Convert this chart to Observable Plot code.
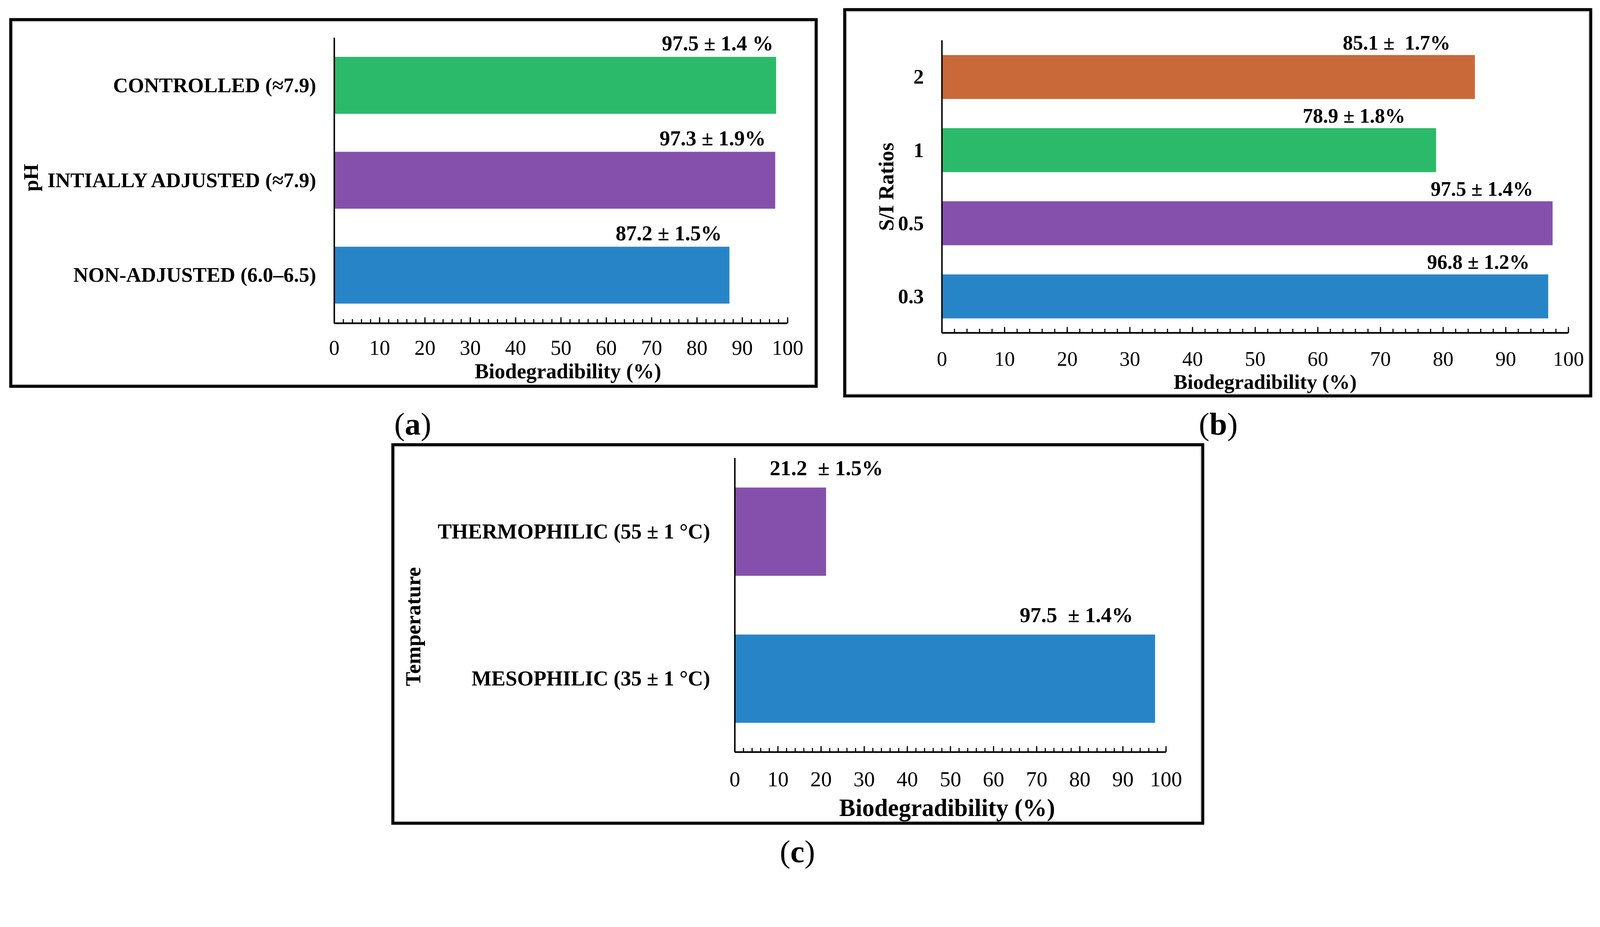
<!DOCTYPE html>
<html>
<head>
<meta charset="utf-8">
<script src="https://cdn.jsdelivr.net/npm/d3@7"></script>
<script src="https://cdn.jsdelivr.net/npm/@observablehq/plot@0.6"></script>
<style>
html, body { margin: 0; padding: 0; background: #fff; overflow: hidden; }
#page { position: absolute; left: 0; top: 0; width: 4334px; height: 2372px; background: #fff; overflow: hidden;
        transform-origin: 0 0;
        font-family: "Liberation Serif", "Times New Roman", serif; color: #000; }
.panel { position: absolute; box-sizing: border-box; border: 8px solid #000;
         box-shadow: inset 0 0 0 3px #d6d6d6; background: #fff; }
.panel svg { display: block; }
.cap { position: absolute; font-size: 86px; line-height: 1; transform: translate(-50%, -50%); white-space: nowrap; }
.cap b { font-weight: bold; }
</style>
</head>
<body>
<div id="page">
  <div class="panel" id="pa" style="left:25px;top:49px;width:2190px;height:1001px;"></div>
  <div class="panel" id="pb" style="left:2284px;top:22px;width:2029px;height:1054px;"></div>
  <div class="panel" id="pc" style="left:1060px;top:1200px;width:2202px;height:1033px;"></div>
  <div class="cap" style="left:1118px;top:1148px;">(<b>a</b>)</div>
  <div class="cap" style="left:3300px;top:1148px;">(<b>b</b>)</div>
  <div class="cap" style="left:2160px;top:2305px;">(<b>c</b>)</div>
</div>
<script>
// ---------- data ----------
const phCategories = ["CONTROLLED (≈7.9)", "INTIALLY ADJUSTED (≈7.9)", "NON-ADJUSTED (6.0–6.5)"];
const phValues = [97.5, 97.3, 87.2];
const phLabels = ["97.5 ± 1.4 %", "97.3 ± 1.9%", "87.2 ± 1.5%"];

const siCategories = ["2", "1", "0.5", "0.3"];
const siValues = [85.1, 78.9, 97.5, 96.8];
const siLabels = ["85.1 ±\u00a0 1.7%", "78.9 ± 1.8%", "97.5 ± 1.4%", "96.8 ± 1.2%"];

const tempCategories = ["THERMOPHILIC (55 ± 1 °C)", "MESOPHILIC (35 ± 1 °C)"];
const tempValues = [21.2, 97.5];
const tempLabels = ["21.2 \u00a0± 1.5%", "97.5 \u00a0± 1.4%"];

const xTicks = [0, 10, 20, 30, 40, 50, 60, 70, 80, 90, 100];
const xTitle = "Biodegradibility (%)";

// ---------- styles ----------
const GREEN = "#2aba6a", PURPLE = "#8550ab", BLUE = "#2785c7", ORANGE = "#c96939";

// fit the 4334×2372 layout into the actual viewport
(function fit() {
  const s = Math.min(window.innerWidth / 4334, window.innerHeight / 2372);
  document.getElementById("page").style.transform = `scale(${s})`;
})();

function panel(el, cfg) {
  const rows = cfg.categories.map((c, i) => ({category: c, value: cfg.values[i], label: cfg.labels[i]}));
  const [mt, mr, mb, ml] = cfg.margins;
  const plotH = cfg.height - mt - mb;
  const minorTicks = d3.range(0, 101, 2);
  const bw = plotH / cfg.categories.length * 0.6;
  const labelMarks = rows.map((r, i) => Plot.text([r], {
    x: "value", y: "category", text: "label", textAnchor: "end",
    dx: cfg.labelDx[i], dy: -(bw / 2) - cfg.labelGap,
    fontWeight: "bold", fontSize: cfg.labelSize
  }));
  const chart = Plot.plot({
    width: cfg.width, height: cfg.height,
    marginTop: mt, marginRight: mr, marginBottom: mb, marginLeft: ml,
    style: {fontFamily: "Liberation Serif, Times New Roman, serif", background: "none", color: "#000"},
    x: {domain: [0, 100]},
    y: {domain: cfg.categories, paddingInner: 0.4, paddingOuter: 0.2},
    color: {domain: cfg.categories, range: cfg.colors},
    marks: [
      Plot.barX(rows, {x: "value", y: "category", fill: "category"}),
      Plot.ruleX(minorTicks, {x: d => d, insetTop: plotH - 11, stroke: "#000", strokeWidth: 3}),
      Plot.ruleX(xTicks, {x: d => d, insetTop: plotH - 16, stroke: "#000", strokeWidth: 3}),
      Plot.barX([0], {x1: 0, x2: 100, insetTop: plotH - 2, insetBottom: -2.5, fill: "#000"}),
      Plot.ruleX([0], {stroke: "#000", strokeWidth: 4}),
      Plot.axisX({ticks: xTicks, tickSize: 0, tickPadding: cfg.tickPadding, fontSize: cfg.tickSize,
                  label: null, tickFormat: d => String(d)}),
      Plot.axisY({tickSize: 0, tickPadding: cfg.yTickPadding, fontSize: cfg.catSize,
                  fontWeight: "bold", label: null}),
      ...labelMarks,
      Plot.text([xTitle], {frameAnchor: "bottom", lineAnchor: "middle", textAnchor: "middle",
                           text: d => d, dy: cfg.titleDy, dx: cfg.titleDx,
                           fontSize: cfg.titleSize, fontWeight: "bold"}),
      Plot.text([cfg.yTitle], {frameAnchor: "left", lineAnchor: "middle", textAnchor: "middle",
                               text: d => d, rotate: -90,
                               dx: cfg.yTitleDx, dy: cfg.yTitleDy,
                               fontSize: cfg.yTitleSize, fontWeight: "bold"})
    ]
  });
  el.appendChild(chart);
}

panel(document.getElementById("pa"), {
  categories: phCategories, values: phValues, labels: phLabels,
  colors: [GREEN, PURPLE, BLUE], yTitle: "pH",
  width: 2174, height: 985, margins: [45, 74, 167, 872],
  tickPadding: 45, yTickPadding: 49, tickSize: 57, catSize: 56,
  labelSize: 57, labelGap: 36, labelDx: [-8, -26, -21],
  titleSize: 57, titleDy: 130, titleDx: 19,
  yTitleSize: 56, yTitleDx: -821, yTitleDy: -8
});

panel(document.getElementById("pb"), {
  categories: siCategories, values: siValues, labels: siLabels,
  colors: [ORANGE, GREEN, PURPLE, BLUE], yTitle: "S/I Ratios",
  width: 2013, height: 1038, margins: [79, 57, 167, 259],
  tickPadding: 49, yTickPadding: 49, tickSize: 56, catSize: 56,
  labelSize: 55, labelGap: 33, labelDx: [-67, -84, -53, -51],
  titleSize: 56, titleDy: 133, titleDx: 27,
  yTitleSize: 57, yTitleDx: -150, yTitleDy: 0
});

panel(document.getElementById("pc"), {
  categories: tempCategories, values: tempValues, labels: tempLabels,
  colors: [PURPLE, BLUE], yTitle: "Temperature",
  width: 2186, height: 1017, margins: [32, 96, 189, 922],
  tickPadding: 51, yTickPadding: 67, tickSize: 58, catSize: 57,
  labelSize: 58, labelGap: 53, labelDx: [154, -60],
  titleSize: 66, titleDy: 152, titleDx: -9,
  yTitleSize: 58, yTitleDx: -871, yTitleDy: 58
});
</script>
</body>
</html>
